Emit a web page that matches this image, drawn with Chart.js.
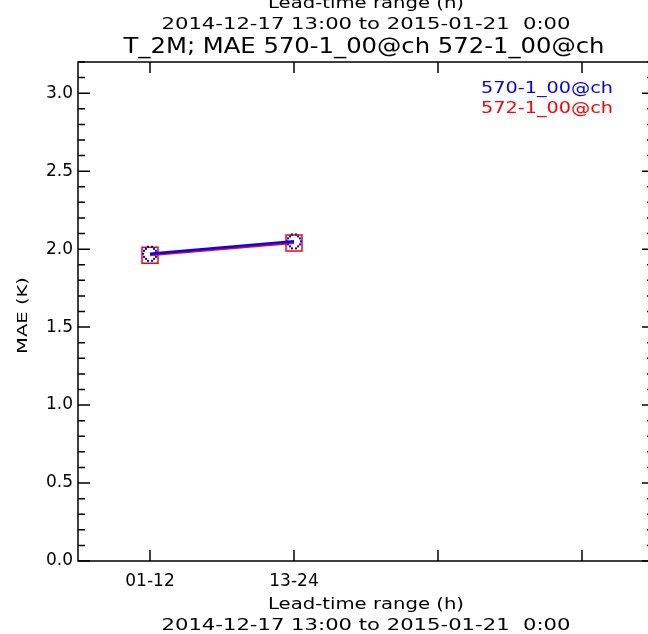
<!DOCTYPE html>
<html>
<head>
<meta charset="utf-8">
<script src="https://cdn.jsdelivr.net/npm/chart.js@4/dist/chart.umd.min.js"></script>
<style>
  html, body { margin:0; padding:0; background:#fff; overflow:hidden; width:648px; height:634px; }
  #wrap { width:648px; height:634px; overflow:hidden; position:relative; }
  #maeChart { position:absolute; left:0; top:0; }
</style>
</head>
<body>
<div id="wrap"><canvas id="maeChart" width="660" height="634"></canvas></div>
<script>
// data
const leadRanges = ['01-12', '13-24', '', ''];
const mae570 = [1.97, 2.05];
const mae572 = [1.96, 2.04];
const seriesNames = ['570-1_00@ch', '572-1_00@ch'];
const yTicks = [0, 0.5, 1.0, 1.5, 2.0, 2.5, 3.0];

const FONT = '"DejaVu Sans", sans-serif';

// dotted circle marker, roughly like the IDL symbol
function dottedCircle(color){
  const c = document.createElement('canvas');
  c.width = 20; c.height = 20;
  const g = c.getContext('2d');
  g.fillStyle = color;
  for(let i=0;i<14;i++){
    const a = i/14*Math.PI*2;
    g.fillRect(Math.round(10+7*Math.cos(a))-1, Math.round(10+7*Math.sin(a))-1, 2, 2);
  }
  return c;
}

// text squeezed/stretched to a given width (the original uses a wide vector font)
function fitText(ctx, text, x, y, size, color, width, align){
  ctx.save();
  ctx.font = size + 'px ' + FONT;
  ctx.fillStyle = color;
  ctx.textBaseline = 'alphabetic';
  ctx.textAlign = align || 'center';
  const w = ctx.measureText(text).width;
  ctx.translate(x, y);
  ctx.scale(width / w, 1);
  ctx.fillText(text, 0, 0);
  ctx.restore();
}

const framePlugin = {
  id: 'frame',
  afterDraw(chart){
    const ctx = chart.ctx;
    const a = chart.chartArea;
    const xs = chart.scales.x, ys = chart.scales.y;
    ctx.save();
    ctx.strokeStyle = '#000';
    ctx.lineWidth = 1.5;
    ctx.strokeRect(a.left, a.top, a.right - a.left, a.bottom - a.top);
    ctx.beginPath();
    // x ticks, bottom and top, pointing inwards
    leadRanges.forEach((l, i) => {
      const px = xs.getPixelForValue(i);
      ctx.moveTo(px, a.bottom); ctx.lineTo(px, a.bottom - 11);
      ctx.moveTo(px, a.top); ctx.lineTo(px, a.top + 11);
    });
    // y ticks, major every 0.5 and minor every 0.1
    for(let k=0;k<=32;k++){
      const v = k/10;
      const py = ys.getPixelForValue(v);
      const len = (k % 5 === 0) ? 12 : 7;
      ctx.moveTo(a.left, py); ctx.lineTo(a.left + len, py);
      ctx.moveTo(a.right, py); ctx.lineTo(a.right - len, py);
    }
    ctx.stroke();
    ctx.restore();

    const cx = (a.left + a.right) / 2;
    // titles above
    fitText(ctx, 'Lead-time range (h)', cx, 8, 16, '#000', 196);
    fitText(ctx, '2014-12-17 13:00 to 2015-01-21  0:00', cx, 29, 16, '#000', 409);
    fitText(ctx, 'T_2M; MAE 570-1_00@ch 572-1_00@ch', cx - 2, 53, 22, '#000', 481);
    // axis titles below
    fitText(ctx, 'Lead-time range (h)', cx, 609, 16, '#000', 196);
    fitText(ctx, '2014-12-17 13:00 to 2015-01-21  0:00', cx, 630, 16, '#000', 409);
    // y title
    ctx.save();
    ctx.translate(27, (a.top + a.bottom) / 2 + 4);
    ctx.rotate(-Math.PI/2);
    fitText(ctx, 'MAE (K)', 0, 0, 14, '#000', 77);
    ctx.restore();
    // legend, text only
    fitText(ctx, seriesNames[0], 481, 93, 16, '#0000ff', 132, 'left');
    fitText(ctx, seriesNames[1], 481, 113, 16, '#ff0000', 132, 'left');
  }
};

new Chart(document.getElementById('maeChart'), {
  type: 'line',
  data: {
    labels: leadRanges,
    datasets: [
      { label: seriesNames[0], data: mae570, borderColor: '#0000ff', borderWidth: 2.5,
        pointStyle: dottedCircle('#0000ff'), pointRadius: 9, fill: false, tension: 0 },
      { label: seriesNames[1], data: mae572, borderColor: '#ff0000', borderWidth: 2,
        pointStyle: 'rect', pointRadius: 11.3, pointBorderWidth: 1.5,
        pointBackgroundColor: 'rgba(0,0,0,0)', pointBorderColor: '#ff0000', fill: false, tension: 0 }
    ]
  },
  options: {
    responsive: false,
    devicePixelRatio: 1,
    animation: false,
    layout: { autoPadding: false, padding: { top: 62, right: 6, left: 0, bottom: 0 } },
    plugins: { legend: { display: false }, title: { display: false }, tooltip: { enabled: false } },
    scales: {
      x: {
        type: 'category', offset: true,
        grid: { display: false, drawTicks: false }, border: { display: false },
        ticks: { color: '#000', font: { family: FONT, size: 17 }, padding: 10, autoSkip: false, maxRotation: 0 },
        afterFit(s){ s.height = 73; }
      },
      y: {
        min: 0, max: 3.2,
        afterBuildTicks(s){ s.ticks = yTicks.map(v => ({ value: v })); },
        grid: { display: false, drawTicks: false }, border: { display: false },
        ticks: { color: '#000', font: { family: FONT, size: 17 }, padding: 5,
          callback: v => Number(v).toFixed(1) },
        afterFit(s){ s.width = 78; }
      }
    }
  },
  plugins: [framePlugin]
});
</script>
</body>
</html>
